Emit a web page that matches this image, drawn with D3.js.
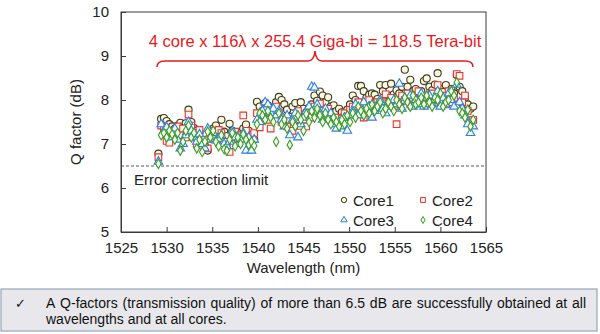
<!DOCTYPE html>
<html><head><meta charset="utf-8">
<script src="https://cdn.jsdelivr.net/npm/d3@7"></script>
<style>body{margin:0;background:#fff}svg{display:block;font-family:"Liberation Sans",Arial,sans-serif}</style>
</head><body><div id="chart"></div>
<script>
const wavelengths = [
1529.1,1529.4,1529.7,1530.0,1530.3,1530.6,1530.9,1531.2,1531.5,1531.8,
1532.1,1532.4,1532.7,1533.0,1533.3,1533.6,1533.9,1534.2,1534.5,1534.8,
1535.1,1535.4,1535.7,1536.0,1536.3,1536.6,1536.9,1537.2,1537.5,1537.8,
1538.1,1538.4,1538.7,1539.0,1539.3,1539.6,1539.9,1540.2,1540.5,1540.8,
1541.1,1541.4,1541.7,1542.0,1542.3,1542.6,1542.9,1543.2,1543.5,1543.8,
1544.1,1544.4,1544.7,1545.0,1545.3,1545.6,1545.9,1546.2,1546.5,1546.8,
1547.1,1547.4,1547.7,1548.0,1548.3,1548.6,1548.9,1549.2,1549.5,1549.8,
1550.1,1550.4,1550.7,1551.0,1551.3,1551.6,1551.9,1552.2,1552.5,1552.8,
1553.1,1553.4,1553.7,1554.0,1554.3,1554.6,1554.9,1555.2,1555.5,1555.8,
1556.1,1556.4,1556.7,1557.0,1557.3,1557.6,1557.9,1558.2,1558.5,1558.8,
1559.1,1559.4,1559.7,1560.0,1560.3,1560.6,1560.9,1561.2,1561.5,1561.8,
1562.1,1562.4,1562.7,1563.0,1563.3,1563.6];

const core1 = [
6.78,7.57,7.59,7.52,7.45,7.40,7.35,7.42,7.48,7.38,
7.47,7.78,7.50,7.36,7.30,7.25,7.09,6.95,6.85,7.20,
7.35,7.42,7.30,7.55,7.28,7.18,7.46,7.30,7.22,7.15,
7.25,7.35,7.44,7.30,7.21,7.10,7.96,7.85,7.75,7.93,
7.88,7.80,7.70,7.95,8.07,8.00,7.90,7.78,7.62,7.85,
7.93,7.67,7.95,7.80,7.72,7.82,7.90,8.10,7.98,8.19,
8.10,7.95,8.06,7.85,7.88,7.75,7.80,7.72,7.65,7.78,
7.90,8.10,8.00,8.32,8.32,8.20,8.05,8.12,8.15,8.12,
8.02,8.34,8.20,8.34,8.10,8.37,8.13,8.22,8.15,8.30,
8.69,8.30,8.46,8.20,8.25,8.15,8.20,8.43,8.49,8.30,
8.22,8.35,8.61,8.25,8.18,8.34,8.10,8.25,8.15,8.57,
8.30,8.20,8.05,7.90,7.80,7.85];

const core2 = [
6.70,7.42,7.35,7.07,7.03,7.30,7.25,7.40,7.20,7.35,
7.15,7.67,7.42,7.25,7.00,7.32,6.98,7.10,6.90,7.22,
7.30,7.15,7.32,7.25,7.05,6.95,6.82,7.15,7.28,7.05,
7.20,7.65,7.30,7.10,7.00,7.25,7.70,7.38,7.60,7.80,
7.55,7.35,7.68,7.85,7.72,7.50,7.60,7.40,7.55,7.30,
7.62,7.75,7.41,7.55,7.40,7.70,7.60,7.85,7.70,7.92,
7.75,7.62,7.80,7.55,7.50,7.60,7.45,7.58,7.70,7.62,
7.78,7.85,7.70,7.95,7.82,7.60,7.90,8.00,7.88,7.80,
7.95,7.85,7.95,8.13,7.92,8.05,7.85,7.45,7.95,8.10,
8.00,8.15,7.90,8.05,7.95,8.20,8.00,8.10,7.90,8.05,
8.15,8.00,8.34,7.95,8.10,7.90,8.20,7.95,8.05,8.59,
8.55,7.95,8.10,7.75,7.49,7.55];

const core3 = [
6.60,7.45,7.30,7.38,7.25,7.15,7.35,7.10,6.90,7.00,
7.20,7.50,7.30,7.15,7.05,7.22,7.00,6.90,7.35,7.10,
7.25,7.08,7.12,7.20,7.00,6.95,7.05,7.30,7.15,7.00,
7.10,7.25,6.85,7.15,6.85,7.10,7.55,7.50,7.75,7.95,
7.90,7.70,7.80,7.65,7.75,7.55,7.40,7.65,7.20,7.55,
7.70,7.15,7.45,7.60,7.75,7.85,8.30,8.28,7.90,7.70,
7.55,7.80,7.60,7.70,7.45,7.35,7.50,7.40,7.60,7.30,
7.65,7.75,7.90,7.65,7.80,7.95,7.70,7.85,7.60,7.75,
7.90,8.00,7.80,7.70,7.95,7.85,8.00,7.90,8.37,7.80,
8.05,7.95,8.10,7.85,8.00,7.90,8.15,7.85,8.05,8.10,
7.90,8.00,8.20,7.85,8.05,7.90,8.15,8.00,7.85,8.35,
7.95,7.80,7.65,7.45,7.25,7.40];

const core4 = [
6.55,7.20,7.25,7.15,7.30,7.22,7.10,7.25,6.85,7.05,
7.30,7.42,7.15,7.25,6.90,7.10,6.82,7.05,7.28,7.15,
7.30,7.05,6.95,7.20,6.88,6.85,7.10,7.25,6.95,7.15,
7.00,7.22,7.10,6.98,7.05,6.96,7.45,7.70,7.65,7.55,
7.75,7.60,7.50,7.05,7.70,7.45,7.55,7.35,6.98,7.50,
7.40,7.65,7.55,7.30,7.68,7.50,7.75,7.60,7.80,7.65,
7.50,7.70,7.55,7.45,7.60,7.50,7.40,7.55,7.45,7.65,
7.50,7.70,7.60,7.85,7.75,7.65,7.80,7.70,7.90,7.75,
7.85,7.95,7.70,7.80,7.95,7.85,7.75,8.00,7.90,7.80,
8.05,7.95,7.85,8.10,7.90,7.95,8.05,7.90,8.10,7.95,
7.85,8.05,8.00,8.15,7.85,7.95,8.00,8.20,8.10,8.40,
7.75,7.70,7.60,7.78,7.40,7.55];

const seriesNames = ["Core1","Core2","Core3","Core4"];
const xTicks = [1525,1530,1535,1540,1545,1550,1555,1560,1565];
const yTicks = [5,6,7,8,9,10];
const errorLimit = 6.5;
const annotation = "4 core x 116\u03bb x 255.4 Giga-bi = 118.5 Tera-bit";
const noteLines = ["A Q-factors (transmission quality) of more than 6.5 dB are successfully obtained at all",
                   "wavelengths and at all cores."];

const W = 600, H = 334;
const m = {left:121, right:486, top:12, bottom:232};
const svg = d3.select("#chart").append("svg").attr("width",W).attr("height",H);

const x = d3.scaleLinear().domain([1525,1565]).range([m.left,m.right]);
const y = d3.scaleLinear().domain([5,10]).range([m.bottom,m.top]);

// frame
svg.append("rect").attr("x",m.left).attr("y",m.top).attr("width",m.right-m.left).attr("height",m.bottom-m.top)
  .attr("fill","none").attr("stroke","#3a3a3a").attr("stroke-width",1);

// axes
const xAxis = svg.append("g").attr("transform",`translate(0,${m.bottom})`)
  .call(d3.axisBottom(x).tickValues(xTicks).tickSizeInner(-5).tickSizeOuter(0).tickPadding(10).tickFormat(d3.format("d")));
const yAxis = svg.append("g").attr("transform",`translate(${m.left},0)`)
  .call(d3.axisLeft(y).tickValues(yTicks).tickSizeInner(-5).tickSizeOuter(0).tickPadding(12).tickFormat(d3.format("d")));
[xAxis,yAxis].forEach(a=>{
  a.select(".domain").attr("stroke","#3a3a3a");
  a.selectAll(".tick line").attr("stroke","#3a3a3a");
  a.selectAll(".tick text").attr("font-size",15).attr("fill","#222").attr("font-family",'"Liberation Sans",Arial,sans-serif');
});

svg.append("text").attr("x",(m.left+m.right)/2).attr("y",273).attr("text-anchor","middle")
  .attr("font-size",15).attr("fill","#222").text("Wavelength (nm)");
svg.append("text").attr("transform",`translate(81,${(m.top+m.bottom)/2}) rotate(-90)`).attr("text-anchor","middle")
  .attr("font-size",15).attr("fill","#222").text("Q factor (dB)");

// error limit
svg.append("line").attr("x1",m.left).attr("x2",m.right).attr("y1",y(errorLimit)).attr("y2",y(errorLimit))
  .attr("stroke","#555").attr("stroke-width",1).attr("stroke-dasharray","3,2");
svg.append("text").attr("x",134).attr("y",y(errorLimit)+19).attr("font-size",15).attr("fill","#222").text("Error correction limit");

// series
const styles = [
  {sym:d3.symbolCircle, size:40, stroke:"#3c3c22", fill:"#fdf9e0"},
  {sym:d3.symbolSquare, size:44, stroke:"#e8372c", fill:"#fff6f4"},
  {sym:d3.symbolTriangle, size:32, stroke:"#2e7fe4", fill:"#f4f9ff"},
  {sym:d3.symbolDiamond, size:26, stroke:"#3a9c24", fill:"#f6fff2"}
];
const allSeries = [core1,core2,core3,core4];
allSeries.forEach((vals,k)=>{
  const st = styles[k];
  const gen = d3.symbol().type(st.sym).size(st.size);
  svg.append("g").selectAll("path").data(vals).join("path")
    .attr("d",gen)
    .attr("transform",(d,i)=>`translate(${x(wavelengths[i])},${y(d)})`)
    .attr("fill",st.fill).attr("stroke",st.stroke).attr("stroke-width",1.1);
});

// annotation brace
const bx1 = 157, bx2 = 473, bm = (bx1+bx2)/2, by = 61;
const brace = `M${bx1},${by+6} Q${bx1},${by} ${bx1+8},${by} L${bm-7},${by} Q${bm-1},${by} ${bm},${by-10} Q${bm+1},${by} ${bm+7},${by} L${bx2-8},${by} Q${bx2},${by} ${bx2},${by+6}`;
svg.append("path").attr("d",brace).attr("fill","none").attr("stroke","#e8191e").attr("stroke-width",1.5);
svg.append("text").attr("x",bm).attr("y",47).attr("text-anchor","middle").attr("font-size",16.5)
  .attr("fill","#e8191e").text(annotation);

// legend
const lg = svg.append("g");
seriesNames.forEach((n,k)=>{
  const lx = k%2===0 ? 344 : 423, ly = k<2 ? 200 : 220;
  const st = styles[k];
  lg.append("path").attr("d",d3.symbol().type(st.sym).size(st.size*0.55)())
    .attr("transform",`translate(${lx},${ly})`).attr("fill",st.fill).attr("stroke",st.stroke);
  lg.append("text").attr("x",lx+9).attr("y",ly+5.5).attr("font-size",15).attr("fill","#222").text(n);
});

// note box
svg.append("rect").attr("x",1).attr("y",289).attr("width",596).attr("height",42)
  .attr("fill","#e8e8ec").attr("stroke","#94a6b8").attr("stroke-width",1.2);
svg.append("text").attr("x",15).attr("y",308).attr("font-size",13).attr("fill","#111").text("\u2713");
const noteX = 46, noteRight = 586;
noteLines.forEach((line,li)=>{
  const ty = 308 + li*15.5;
  if(li===0){
    const words = line.split(" ");
    const tmp = words.map(w=>svg.append("text").attr("font-size",14).attr("fill","#111").text(w));
    const widths = tmp.map(t=>t.node().getComputedTextLength());
    const gap = (noteRight-noteX-d3.sum(widths))/(words.length-1);
    let cx = noteX;
    tmp.forEach((t,i)=>{t.attr("x",cx).attr("y",ty); cx += widths[i]+gap;});
  } else {
    svg.append("text").attr("x",noteX).attr("y",ty).attr("font-size",14).attr("fill","#111").text(line);
  }
});
</script></body></html>
